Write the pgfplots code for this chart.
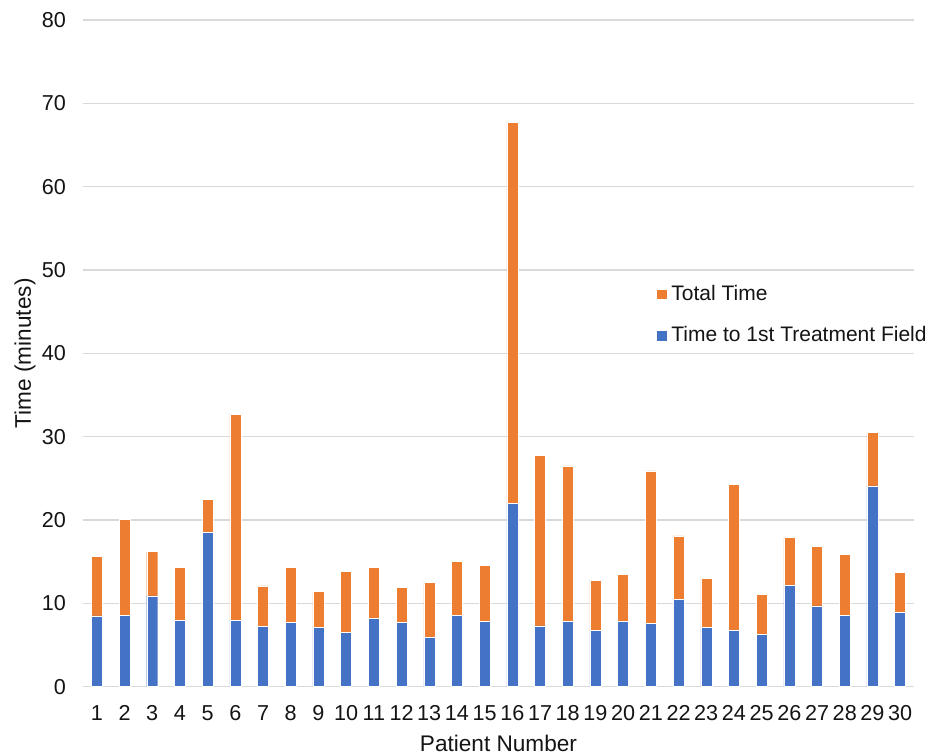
\documentclass[border=0pt]{standalone}
\usepackage{pgfplots}
\pgfplotsset{compat=1.18}
\usepackage{pgfplotstable}
\usepackage{fontspec}
\setmainfont{Liberation Sans}
\definecolor{xlblue}{HTML}{4472C4}
\definecolor{xlorange}{HTML}{ED7D31}
\definecolor{gridgray}{HTML}{D9D9D9}
\pgfplotstableread{
p blue orange
1 8.5 7.1
2 8.6 11.5
3 10.9 5.3
4 8.0 6.3
5 18.5 4.0
6 8.0 24.7
7 7.2 4.9
8 7.7 6.6
9 7.1 4.3
10 6.5 7.3
11 8.2 6.1
12 7.7 4.2
13 5.9 6.6
14 8.6 6.4
15 7.8 6.8
16 22.0 45.7
17 7.3 20.5
18 7.8 18.7
19 6.8 6.0
20 7.8 5.7
21 7.6 18.3
22 10.5 7.6
23 7.1 5.9
24 6.8 17.5
25 6.3 4.8
26 12.2 5.7
27 9.7 7.1
28 8.6 7.3
29 24.1 6.4
30 8.9 4.8
}\datatable
\begin{document}
\begin{tikzpicture}
\useasboundingbox (-41.5pt,-33.65pt) rectangle (427pt,343.35pt);
\begin{axis}[
  at={(0,0)}, anchor=south west,
  scale only axis, width=415.5pt, height=333.35pt,
  ybar stacked, bar width=5.5pt,
  xmin=0.5, xmax=30.5, ymin=0, ymax=80,
  xtick={1,...,30}, ytick={0,10,...,80},
  ymajorgrids, grid style={color=gridgray, line width=0.7pt},
  axis line style={draw=none}, tick style={draw=none},
  /pgf/number format/assume math mode=true,
  ticklabel style={font=\fontsize{10.8}{12}\selectfont, text=black!92},
  xticklabel style={yshift=-6pt},
  yticklabel style={xshift=-5pt},
  xlabel={Patient Number}, ylabel={Time (minutes)},
  label style={font=\fontsize{11.3}{13}\selectfont, text=black!92},
  xlabel style={at={(axis description cs:0.5,-0.0845)}, anchor=center},
  ylabel style={at={(axis description cs:-0.0698,0.5)}, anchor=center},
  legend style={draw=none, fill=none, at={(0.6895,0.609)}, anchor=north west,
    font=\fontsize{10.5}{12}\selectfont, text=black!92, row sep=7.5pt,
    inner sep=0pt},
  legend cell align=left,
  reverse legend,
  legend image code/.code={\fill[#1] (0pt,-2.65pt) rectangle (5.3pt,2.65pt);},
]
\addplot[fill=xlblue, draw=white, line width=0.2pt] table[x=p, y=blue] {\datatable};
\addplot[fill=xlorange, draw=white, line width=0.2pt] table[x=p, y=orange] {\datatable};
\legend{Time to 1st Treatment Field, Total Time}
\end{axis}
\end{tikzpicture}
\end{document}
